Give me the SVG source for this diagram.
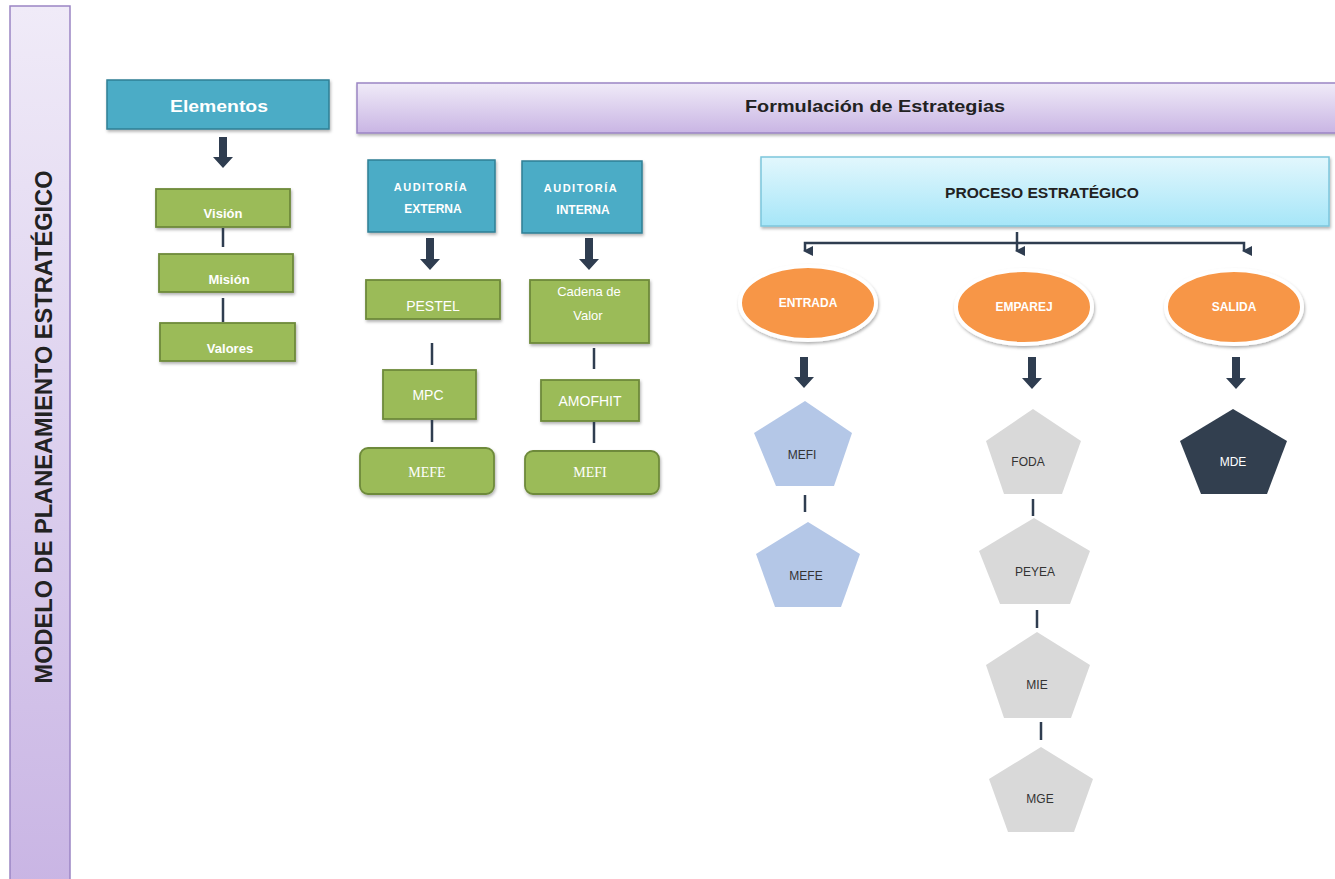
<svg xmlns="http://www.w3.org/2000/svg" width="1335" height="879" viewBox="0 0 1335 879">
<defs>
<linearGradient id="gPurple" x1="0" y1="0" x2="0" y2="1"><stop offset="0" stop-color="#F0EBF8"/><stop offset="1" stop-color="#C9B5E4"/></linearGradient>
<linearGradient id="gCyan" x1="0" y1="0" x2="0" y2="1"><stop offset="0" stop-color="#E2F7FD"/><stop offset="1" stop-color="#A6E6F8"/></linearGradient>
<filter id="sh" x="-10%" y="-10%" width="130%" height="140%"><feDropShadow dx="1" dy="2" stdDeviation="1.5" flood-color="#000" flood-opacity="0.3"/></filter>
<marker id="ah" viewBox="0 0 10 10" refX="5" refY="8" markerWidth="4" markerHeight="4" orient="auto-start-reverse"><path d="M0,0 L10,0 L5,10 z" fill="#2F3D50"/></marker>
</defs>
<style>
.teal{fill:#4BACC6;stroke:#2F7F95;stroke-width:1.5}
.green{fill:#9BBB59;stroke:#6E8A3A;stroke-width:1.8}
.wt{fill:#fff;font-family:"Liberation Sans",Arial,sans-serif;font-weight:bold;text-anchor:middle}
.wn{fill:#fff;font-family:"Liberation Sans",Arial,sans-serif;text-anchor:middle}
.wserif{fill:#fff;font-family:"Liberation Serif","Times New Roman",serif;font-size:14px;text-anchor:middle}
.bt{fill:#222;font-family:"Liberation Sans",Arial,sans-serif;font-weight:bold;text-anchor:middle}
.pt{fill:#333;font-family:"Liberation Sans",Arial,sans-serif;font-size:12px;text-anchor:middle}
.ptw{fill:#fff;font-family:"Liberation Sans",Arial,sans-serif;font-size:12px;text-anchor:middle}
.ln{stroke:#2F3D50;stroke-width:2.5;fill:none}
.arr{fill:#2F3D50}
.orange{fill:#F79646;stroke:#fff;stroke-width:4}
</style>

<g id="title">
<rect x="10" y="6" width="60" height="880" fill="url(#gPurple)" stroke="#9B85C4" stroke-width="1.5"/>
<text class="bt" transform="translate(52,427) rotate(-90)" font-size="23" fill="#111" textLength="513" lengthAdjust="spacingAndGlyphs">MODELO DE PLANEAMIENTO ESTRATÉGICO</text>
</g>

<g id="elementos"><rect class="teal" x="107" y="80" width="222" height="49" filter="url(#sh)"/><text class="wt" x="219" y="112" font-size="17" textLength="98" lengthAdjust="spacingAndGlyphs">Elementos</text></g>
<g id="vision"><rect class="green" x="156" y="189" width="134" height="38" filter="url(#sh)"/><text class="wt" x="223" y="218" font-size="13">Visión</text></g>
<g id="mision"><rect class="green" x="159" y="254" width="134" height="38" filter="url(#sh)"/><text class="wt" x="229" y="284" font-size="13">Misión</text></g>
<g id="valores"><rect class="green" x="160" y="323" width="135" height="38" filter="url(#sh)"/><text class="wt" x="230" y="353" font-size="13">Valores</text></g>

<g id="formulacion"><rect x="357" y="83" width="985" height="50" fill="url(#gPurple)" stroke="#9B85C4" stroke-width="1.5" filter="url(#sh)"/><text class="bt" x="875" y="112" font-size="17" fill="#111" textLength="260" lengthAdjust="spacingAndGlyphs">Formulación de Estrategias</text></g>

<g id="aud-ext"><rect class="teal" x="368" y="160" width="127" height="72" filter="url(#sh)"/><text class="wt" x="431" y="191" font-size="11" letter-spacing="1.5">AUDITORÍA</text><text class="wt" x="433" y="213" font-size="12">EXTERNA</text></g>
<g id="aud-int"><rect class="teal" x="522" y="161" width="120" height="72" filter="url(#sh)"/><text class="wt" x="581" y="192" font-size="11" letter-spacing="1.5">AUDITORÍA</text><text class="wt" x="583" y="214" font-size="12">INTERNA</text></g>

<g id="pestel"><rect class="green" x="366" y="280" width="134" height="39" filter="url(#sh)"/><text class="wn" x="433" y="311" font-size="14">PESTEL</text></g>
<g id="cadena"><rect class="green" x="530" y="280" width="119" height="63" filter="url(#sh)"/><text class="wn" x="589" y="296" font-size="13">Cadena de</text><text class="wn" x="588" y="320" font-size="13">Valor</text></g>
<g id="mpc"><rect class="green" x="383" y="370" width="93" height="49" filter="url(#sh)"/><text class="wn" x="428" y="400" font-size="14">MPC</text></g>
<g id="amofhit"><rect class="green" x="541" y="380" width="98" height="41" filter="url(#sh)"/><text class="wn" x="590" y="406" font-size="14">AMOFHIT</text></g>
<g id="mefe-box"><rect class="green" x="360" y="448" width="134" height="46" rx="8" filter="url(#sh)"/><text class="wserif" x="427" y="477">MEFE</text></g>
<g id="mefi-box"><rect class="green" x="525" y="451" width="134" height="43" rx="8" filter="url(#sh)"/><text class="wserif" x="590" y="477">MEFI</text></g>

<g id="proceso"><rect x="761" y="157" width="568" height="69" fill="url(#gCyan)" stroke="#7CC6DC" stroke-width="1.5" filter="url(#sh)"/><text class="bt" x="1042" y="198" font-size="14" textLength="194" lengthAdjust="spacingAndGlyphs">PROCESO ESTRATÉGICO</text></g>

<g id="entrada"><ellipse class="orange" cx="808" cy="303" rx="68" ry="37" filter="url(#sh)"/><text class="wt" x="808" y="307" font-size="12">ENTRADA</text></g>
<g id="emparej"><ellipse class="orange" cx="1024" cy="307" rx="68" ry="37" filter="url(#sh)"/><text class="wt" x="1024" y="311" font-size="12">EMPAREJ</text></g>
<g id="salida"><ellipse class="orange" cx="1234" cy="307" rx="68" ry="37" filter="url(#sh)"/><text class="wt" x="1234" y="311" font-size="12">SALIDA</text></g>

<g id="p-mefi"><polygon points="805,401 852,433 834,486 776,486 754,433" fill="#B4C7E7"/><text class="pt" x="802" y="459">MEFI</text></g>
<g id="p-mefe"><polygon points="808,522 860,554 841,607 775,607 756,554" fill="#B4C7E7"/><text class="pt" x="806" y="580">MEFE</text></g>
<g id="p-foda"><polygon points="1033,409 1081,441 1062,494 1004,494 986,441" fill="#D9D9D9"/><text class="pt" x="1028" y="466">FODA</text></g>
<g id="p-peyea"><polygon points="1034,518 1090,551 1070,604 1000,604 979,551" fill="#D9D9D9"/><text class="pt" x="1035" y="576">PEYEA</text></g>
<g id="p-mie"><polygon points="1037,632 1090,665 1071,718 1004,718 986,665" fill="#D9D9D9"/><text class="pt" x="1037" y="689">MIE</text></g>
<g id="p-mge"><polygon points="1041,747 1093,779 1074,832 1008,832 989,779" fill="#D9D9D9"/><text class="pt" x="1040" y="803">MGE</text></g>
<g id="p-mde"><polygon points="1233,409 1287,441 1267,494 1201,494 1180,441" fill="#323F4F"/><text class="ptw" x="1233" y="466">MDE</text></g>

<g id="connectors">
<path class="arr" d="M219,137 h8 v20 h6 l-10,11 l-10,-11 h6 z"/>
<path class="arr" d="M426,238 h8 v21 h6 l-10,11 l-10,-11 h6 z"/>
<path class="arr" d="M585,238 h8 v21 h6 l-10,11 l-10,-11 h6 z"/>
<path class="arr" d="M800,357 h8 v20 h6 l-10,11 l-10,-11 h6 z"/>
<path class="arr" d="M1028,357 h8 v21 h6 l-10,11 l-10,-11 h6 z"/>
<path class="arr" d="M1232,357 h8 v21 h6 l-10,11 l-10,-11 h6 z"/>
<line class="ln" x1="223" y1="228" x2="223" y2="247"/>
<line class="ln" x1="223" y1="298" x2="223" y2="322"/>
<line class="ln" x1="432" y1="343" x2="432" y2="365"/>
<line class="ln" x1="432" y1="420" x2="432" y2="442"/>
<line class="ln" x1="594" y1="348" x2="594" y2="369"/>
<line class="ln" x1="594" y1="422" x2="594" y2="443"/>
<line class="ln" x1="805" y1="495" x2="805" y2="512"/>
<line class="ln" x1="1033" y1="499" x2="1033" y2="516"/>
<line class="ln" x1="1037" y1="610" x2="1037" y2="628"/>
<line class="ln" x1="1041" y1="722" x2="1041" y2="740"/>
<path class="ln" d="M805,251 V243 H1244 V251" marker-start="url(#ah)" marker-end="url(#ah)"/>
<line class="ln" x1="1017" y1="232" x2="1017" y2="251" marker-end="url(#ah)"/>
</g>
</svg>
